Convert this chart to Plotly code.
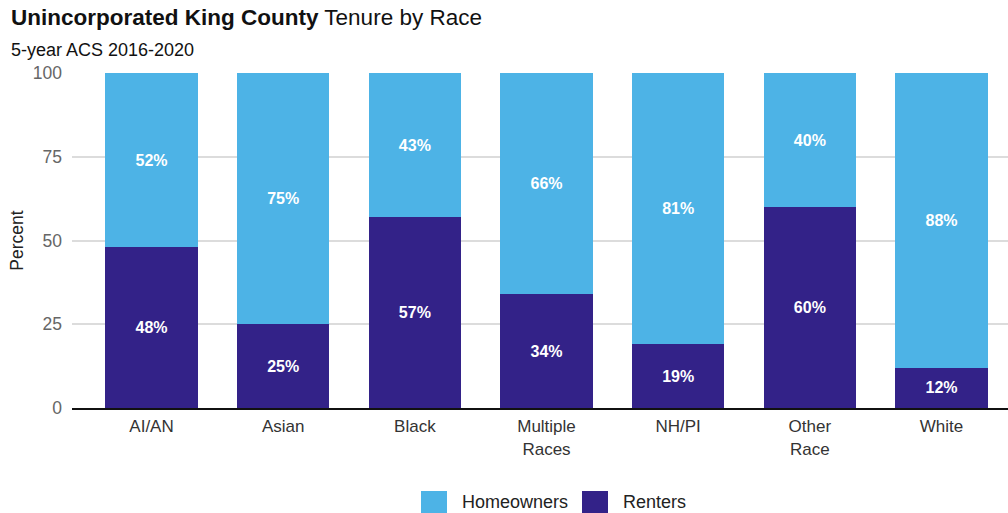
import plotly.graph_objects as go

# Tenure by race, unincorporated King County (ACS 5-year 2016-2020)
categories = ["AI/AN", "Asian", "Black", "Multiple<br>Races", "NH/PI", "Other<br>Race", "White"]
renters = [48, 25, 57, 34, 19, 60, 12]
homeowners = [52, 75, 43, 66, 81, 40, 88]
y_ticks = [0, 25, 50, 75, 100]

HOME_COLOR = "#4db3e6"
RENT_COLOR = "#332288"
FONT = "Liberation Sans, Arial, sans-serif"

W, H = 1008, 513
M_L, M_R, M_T, M_B = 72, 0, 73, 105

fig = go.Figure()
fig.add_trace(go.Bar(
    x=categories, y=renters, name="Renters",
    marker=dict(color=RENT_COLOR, line=dict(width=0)),
    texttemplate="<b>%{y}%</b>", textposition="inside",
    insidetextanchor="middle", textangle=0,
    textfont=dict(color="white", size=16, family=FONT),
    showlegend=False,
))
fig.add_trace(go.Bar(
    x=categories, y=homeowners, name="Homeowners",
    marker=dict(color=HOME_COLOR, line=dict(width=0)),
    texttemplate="<b>%{y}%</b>", textposition="inside",
    insidetextanchor="middle", textangle=0,
    textfont=dict(color="white", size=16, family=FONT),
    showlegend=False,
))

# plot-area helpers for the hand-drawn legend
pw = W - M_L - M_R
ph = H - M_T - M_B
def px(x):
    return (x - M_L) / pw
def py(y):
    return (H - M_B - y) / ph

legend_items = [("Homeowners", HOME_COLOR, 421, 460), ("Renters", RENT_COLOR, 582, 621)]
shapes = []
annotations = []
for label, color, sx, tx in legend_items:
    shapes.append(dict(type="rect", xref="paper", yref="paper",
                       x0=px(sx), x1=px(sx + 26), y0=py(517), y1=py(491),
                       fillcolor=color, line=dict(width=0), layer="above"))
    annotations.append(dict(xref="paper", yref="paper", x=px(tx), y=py(502),
                            text=label, showarrow=False, xanchor="left", yanchor="middle",
                            font=dict(size=18, color="#222", family=FONT)))

annotations.append(dict(xref="paper", yref="paper", x=px(9), y=py(18),
                        text="<b>Unincorporated King County</b> Tenure by Race",
                        showarrow=False, xanchor="left", yanchor="middle",
                        font=dict(size=22.5, color="#111", family=FONT)))
annotations.append(dict(xref="paper", yref="paper", x=px(9), y=py(50),
                        text="5-year ACS 2016-2020",
                        showarrow=False, xanchor="left", yanchor="middle",
                        font=dict(size=18, color="#111", family=FONT)))

fig.update_layout(
    width=W, height=H,
    margin=dict(l=M_L, r=M_R, t=M_T, b=M_B, pad=0),
    barmode="stack", bargap=0.3,
    plot_bgcolor="white", paper_bgcolor="white",
    font=dict(family=FONT),
    shapes=shapes, annotations=annotations,
    showlegend=False,
)
fig.update_xaxes(
    range=[-0.604, 6.505], showgrid=False, showline=True, linecolor="#111", linewidth=2,
    tickfont=dict(size=17, color="#333", family=FONT), ticks="", ticklabelstandoff=2,
)
fig.update_yaxes(
    range=[0, 100], tickvals=y_ticks, showgrid=True, gridcolor="#dcdcdc", gridwidth=2,
    zeroline=False, showline=False,
    tickfont=dict(size=17.5, color="#666", family=FONT), ticks="", ticklabelstandoff=9,
    title=dict(text="Percent", font=dict(size=17.5, color="#222", family=FONT), standoff=4),
)

fig.write_html("out.html")
